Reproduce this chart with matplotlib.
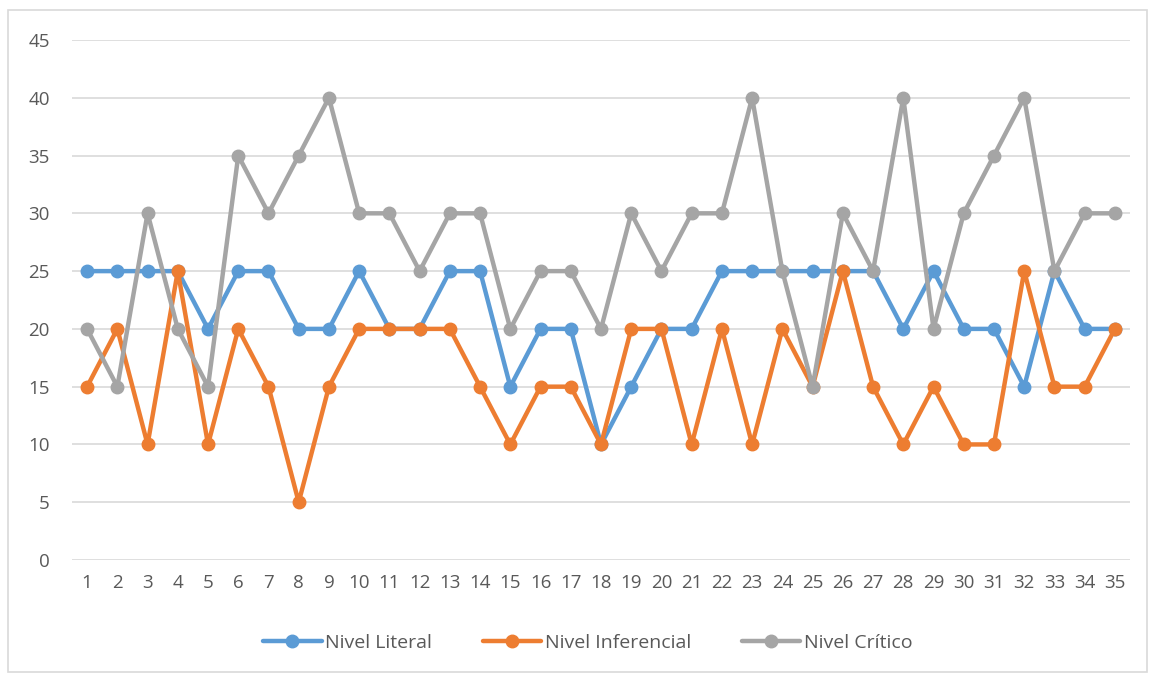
import matplotlib.pyplot as plt
from matplotlib.patches import Rectangle

# ── Data ── #
items = list(range(1, 36))
literal = [25, 25, 25, 25, 20, 25, 25, 20, 20, 25, 20, 20, 25, 25, 15, 20, 20, 10,
           15, 20, 20, 25, 25, 25, 25, 25, 25, 20, 25, 20, 20, 15, 25, 20, 20]
inferencial = [15, 20, 10, 25, 10, 20, 15, 5, 15, 20, 20, 20, 20, 15, 10, 15, 15, 10,
               20, 20, 10, 20, 10, 20, 15, 25, 15, 10, 15, 10, 10, 25, 15, 15, 20]
critico = [20, 15, 30, 20, 15, 35, 30, 35, 40, 30, 30, 25, 30, 30, 20, 25, 25, 20,
           30, 25, 30, 30, 40, 25, 15, 30, 25, 40, 20, 30, 35, 40, 25, 30, 30]
y_ticks = list(range(0, 50, 5))

plt.rcParams['font.family'] = ['Open Sans', 'DejaVu Sans']

fig = plt.figure(figsize=(11.49, 6.75), dpi=100)
ax = fig.add_axes([72 / 1149, 1 - 560 / 675, (1130 - 72) / 1149, 520 / 675])

series = [
    (literal, 'Nivel Literal', '#5B9BD5'),
    (inferencial, 'Nivel Inferencial', '#ED7D31'),
    (critico, 'Nivel Crítico', '#A5A5A5'),
]
for values, label, color in series:
    ax.plot(items, values, color=color, linewidth=3.2, marker='o', markersize=9,
            label=label, solid_capstyle='round', zorder=3)

ax.set_xlim(0.5, 35.5)
ax.set_ylim(0, 45)
ax.set_yticks(y_ticks)
ax.set_xticks(items)
ax.grid(True, axis='y', color='#D9D9D9', linewidth=1.2)
ax.set_axisbelow(True)
for side in ['top', 'right', 'left', 'bottom']:
    ax.spines[side].set_visible(False)
ax.tick_params(axis='both', length=0, labelsize=13.5, labelcolor='#595959')
ax.tick_params(axis='y', pad=16)
ax.tick_params(axis='x', pad=10)

fig.legend(loc='center', bbox_to_anchor=(588 / 1149, 1 - 643 / 675), ncol=3,
           frameon=False, fontsize=14, labelcolor='#595959', handlelength=3,
           columnspacing=2.6, handletextpad=0.2)

# Chart border
fig.patches.append(Rectangle((8 / 1149, 3 / 675), 1139 / 1149, 662 / 675,
                             transform=fig.transFigure, fill=False,
                             edgecolor='#D9D9D9', linewidth=1.2))

fig.savefig('out.png', dpi=100)
